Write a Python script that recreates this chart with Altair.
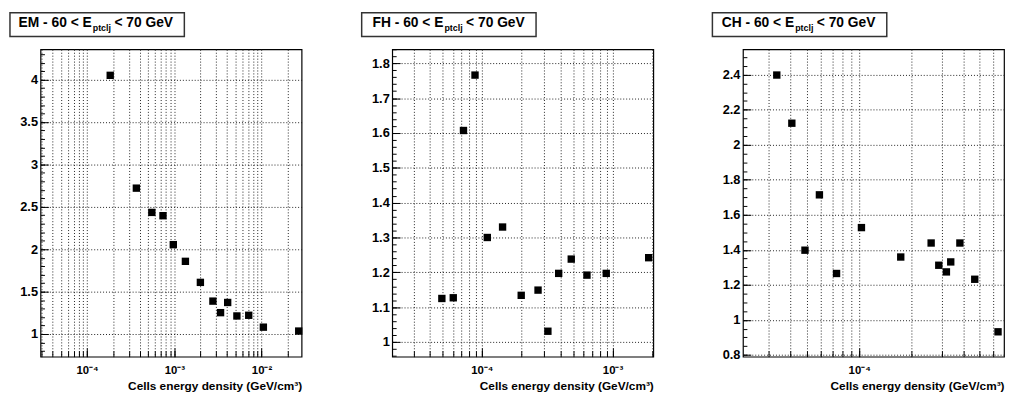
import altair as alt
import pandas as pd
import numpy as np

# ---------------- data ----------------
em_x = [1.84e-4, 3.67e-4, 5.52e-4, 7.41e-4, 9.73e-4, 1.34e-3, 1.99e-3,
        2.77e-3, 3.39e-3, 4.09e-3, 5.22e-3, 7.13e-3, 1.05e-2, 2.67e-2]
em_y = [4.05, 2.72, 2.434, 2.395, 2.054, 1.857, 1.609,
        1.388, 1.252, 1.372, 1.213, 1.221, 1.081, 1.035]

fh_x = [4.94e-5, 6.04e-5, 7.23e-5, 8.86e-5, 1.10e-4, 1.44e-4, 2.00e-4,
        2.69e-4, 3.20e-4, 3.87e-4, 4.83e-4, 6.37e-4, 8.95e-4, 1.89e-3]
fh_y = [1.125, 1.127, 1.607, 1.766, 1.300, 1.330, 1.134,
        1.149, 1.031, 1.197, 1.238, 1.192, 1.197, 1.242]

ch_x = [3.33e-5, 4.07e-5, 4.85e-5, 5.88e-5, 7.39e-5, 1.03e-4, 1.74e-4,
        2.61e-4, 2.89e-4, 3.20e-4, 3.39e-4, 3.83e-4, 4.67e-4, 6.37e-4]
ch_y = [2.398, 2.123, 1.398, 1.714, 1.265, 1.527, 1.359,
        1.439, 1.312, 1.274, 1.331, 1.439, 1.232, 0.932]

panel_names = ["EM", "FH", "CH"]
x_domains = [[2.92e-5, 2.88e-2], [2.06e-5, 2.05e-3], [2.12e-5, 6.9e-4]]
y_domains = [[0.733, 4.357], [0.958, 1.840], [0.79, 2.545]]
y_major = [[1, 1.5, 2, 2.5, 3, 3.5, 4],
           [1, 1.1, 1.2, 1.3, 1.4, 1.5, 1.6, 1.7, 1.8],
           [0.8, 1, 1.2, 1.4, 1.6, 1.8, 2, 2.2, 2.4]]
y_minor_step = [0.1, 0.02, 0.05]
x_title = "Cells energy density (GeV/cm³)"
title_parts = [" - 60 < E", "ptclj", "< 70 GeV"]

SUP = str.maketrans("-0123456789", "⁻⁰¹²³⁴⁵⁶⁷⁸⁹")
FONT = "Liberation Sans"
W, H = 265, 312


def log_ticks(lo, hi):
    minor, dec = [], []
    for k in range(-7, 1):
        for m in range(1, 10):
            v = float(f"{m}e{k}")
            if lo <= v <= hi:
                minor.append(v)
                if m == 1:
                    dec.append((v, k))
    return minor, dec


def panel(name, xs, ys, xdom, ydom, ymaj, ystep):
    df = pd.DataFrame({"x": xs, "y": ys})
    xs_ = alt.Scale(type="log", domain=xdom, nice=False)
    ys_ = alt.Scale(domain=ydom, nice=False, zero=False)
    minor, dec = log_ticks(*xdom)
    dec_vals = [v for v, _ in dec]
    expr = "''"
    for v, k in dec:
        expr = f"abs(datum.value/{v} - 1) < 1e-6 ? '10{str(k).translate(SUP)}' : ({expr})"
    n0 = int(np.ceil(ydom[0] / ystep - 1e-9))
    n1 = int(np.floor(ydom[1] / ystep + 1e-9))
    yminor = [round(i * ystep, 4) for i in range(n0, n1 + 1)]

    ticks_minor = alt.Chart(df).mark_square(opacity=0).encode(
        x=alt.X("x:Q", scale=xs_, axis=alt.Axis(
            values=minor, orient="bottom", offset=-6, tickSize=6, labels=False,
            grid=False, domain=False, title=None, tickColor="black")),
        y=alt.Y("y:Q", scale=ys_, axis=alt.Axis(
            values=yminor, orient="left", offset=-4, tickSize=4, labels=False,
            grid=False, domain=False, title=None, tickColor="black")),
    )
    ticks_major = alt.Chart(df).mark_square(opacity=0).encode(
        x=alt.X("x:Q", scale=xs_, axis=alt.Axis(
            values=dec_vals, orient="bottom", offset=-9, tickSize=9, labels=False,
            grid=False, domain=False, title=None, tickColor="black")),
        y=alt.Y("y:Q", scale=ys_, axis=alt.Axis(
            values=ymaj, orient="left", offset=-8, tickSize=8, labels=False,
            grid=False, domain=False, title=None, tickColor="black")),
    )
    pts = alt.Chart(df).mark_square(size=56, color="black", opacity=1).encode(
        x=alt.X("x:Q", scale=xs_, axis=alt.Axis(
            values=minor, orient="bottom", grid=True, gridDash=[1, 2],
            gridColor="#222", gridWidth=1, ticks=False, domain=False,
            labelExpr=expr, labelOverlap=False, labelFont=FONT,
            labelFontSize=11.5, labelFontWeight="bold", labelColor="black",
            labelPadding=8, title=x_title, titleAnchor="end", titleAlign="right",
            titleFont=FONT, titleFontSize=12, titleFontWeight="bold",
            titleColor="black", titlePadding=5)),
        y=alt.Y("y:Q", scale=ys_, axis=alt.Axis(
            values=ymaj, orient="left", grid=True, gridDash=[1, 2],
            gridColor="#222", gridWidth=1, ticks=False, domain=False,
            labelExpr="datum.value + ''", labelFont=FONT, labelFontSize=13,
            labelFontWeight="bold", labelColor="black", labelPadding=3,
            title=None)),
    )
    one = alt.Data(values=[{"a": 1}])
    box = alt.Chart(one).mark_rect(fill="white", stroke="#333", strokeWidth=1.5).encode(
        x=alt.value(-31), x2=alt.value(146), y=alt.value(-37), y2=alt.value(-13))
    t1 = alt.Chart(one).mark_text(
        text=name + title_parts[0], align="right", baseline="alphabetic",
        font=FONT, fontSize=14, fontWeight="bold", color="black"
    ).encode(x=alt.value(52), y=alt.value(-23))
    t2 = alt.Chart(one).mark_text(
        text=title_parts[1], align="left", baseline="alphabetic",
        font=FONT, fontSize=9, fontWeight="bold", color="black"
    ).encode(x=alt.value(53), y=alt.value(-19))
    t3 = alt.Chart(one).mark_text(
        text=title_parts[2], align="left", baseline="alphabetic",
        font=FONT, fontSize=14, fontWeight="bold", color="black"
    ).encode(x=alt.value(75), y=alt.value(-23))

    return alt.layer(ticks_minor, ticks_major, pts, box, t1, t2, t3).resolve_axis(
        x="independent", y="independent").properties(width=W, height=H)


panels = [
    panel(panel_names[0], em_x, em_y, x_domains[0], y_domains[0], y_major[0], y_minor_step[0]),
    panel(panel_names[1], fh_x, fh_y, x_domains[1], y_domains[1], y_major[1], y_minor_step[1]),
    panel(panel_names[2], ch_x, ch_y, x_domains[2], y_domains[2], y_major[2], y_minor_step[2]),
]

chart = alt.hconcat(*panels, spacing=57).properties(padding=0, background="white").configure_view(
    stroke="black", strokeWidth=1.2)

chart.save("out.html", embed_options={"renderer": "svg", "actions": False})
